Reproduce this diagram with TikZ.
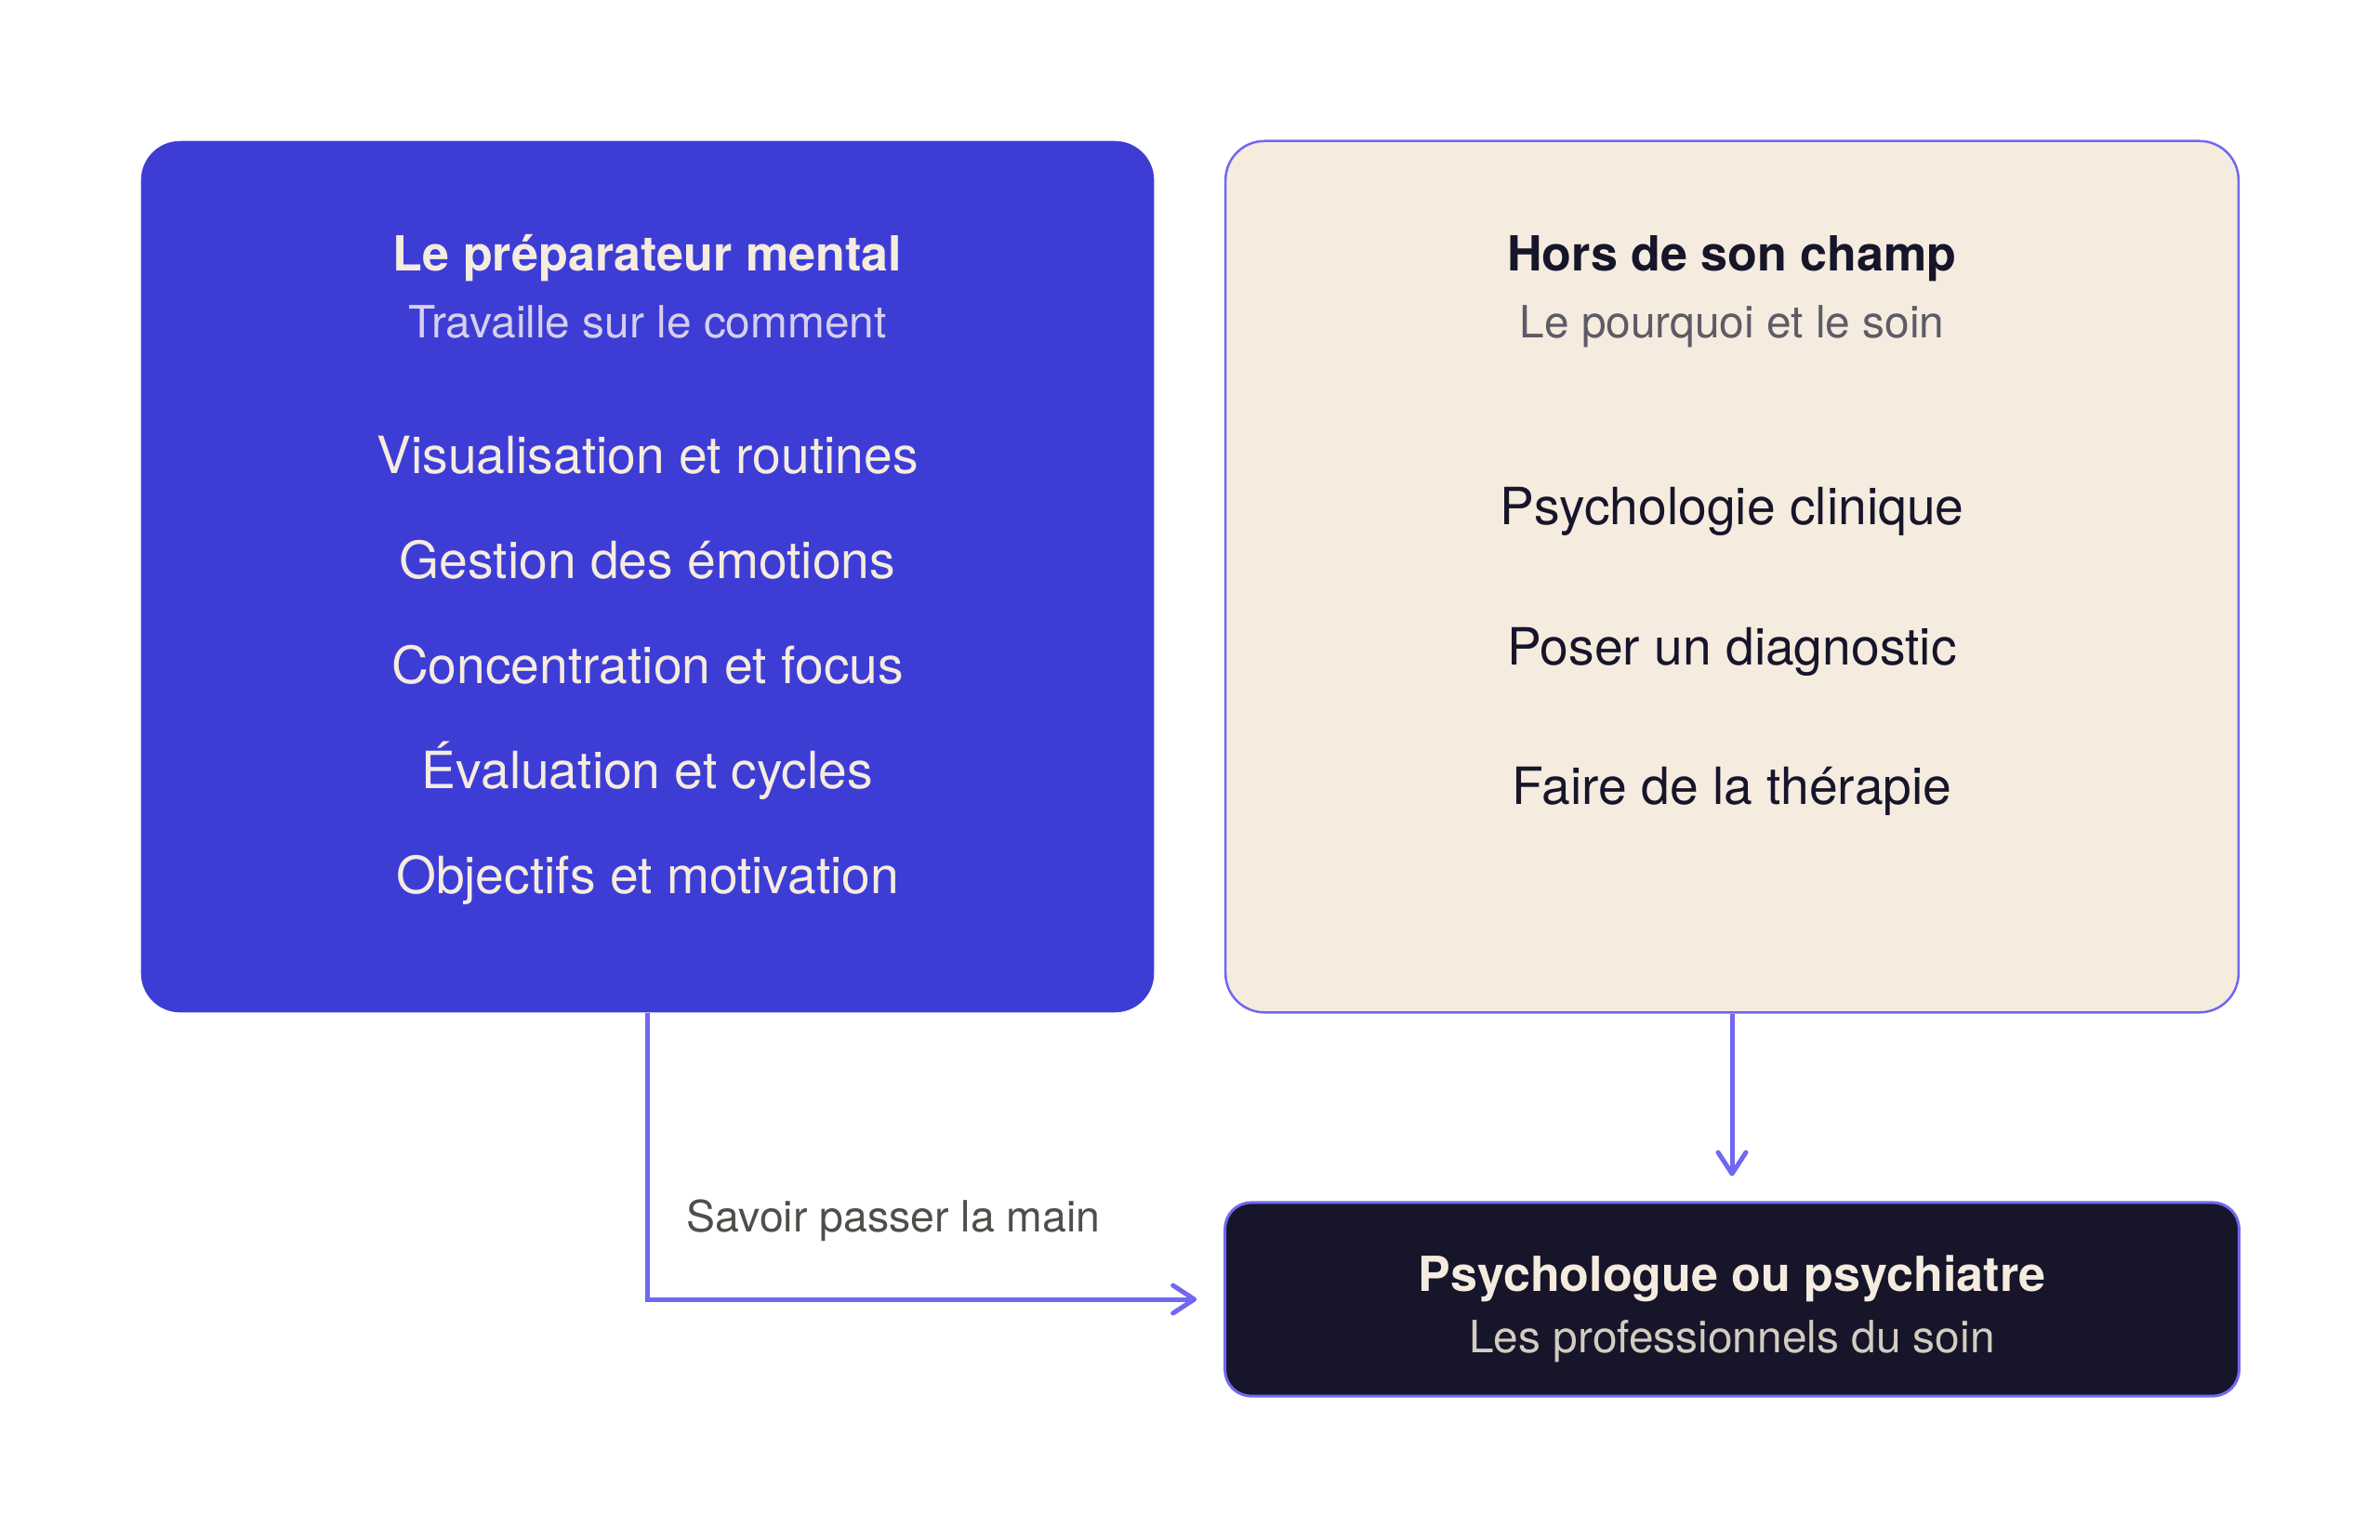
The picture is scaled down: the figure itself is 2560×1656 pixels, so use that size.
\documentclass[tikz,border=0pt]{standalone}
\usepackage{fontspec}
\setmainfont{TeX Gyre Heros}
\usetikzlibrary{arrows.meta}
\definecolor{bluebox}{HTML}{3D3DD6}
\definecolor{lineviolet}{HTML}{7068F0}
\definecolor{cream}{HTML}{F5ECDF}
\definecolor{darkbox}{HTML}{16152A}
\definecolor{lavender}{HTML}{D6D0EC}
\definecolor{greysub}{HTML}{5E5A66}
\definecolor{beigesub}{HTML}{D4CCC0}
\definecolor{labelgrey}{HTML}{4F4E4A}
\tikzset{
  panel/.style={rounded corners=0.42cm, inner sep=0pt, minimum width=10.89cm, minimum height=9.37cm},
  ttl/.style={anchor=base, inner sep=0pt, font=\fontsize{14.8pt}{18pt}\selectfont\bfseries},
  sub/.style={anchor=base, inner sep=0pt, font=\fontsize{13.6pt}{16pt}\selectfont},
  item/.style={anchor=base, inner sep=0pt, font=\fontsize{15.7pt}{18pt}\selectfont},
  conn/.style={draw=lineviolet, line width=0.05cm, -{Straight Barb[length=0.23cm, width=0.30cm, round, line width=0.05cm]}}
}
\begin{document}
\begin{tikzpicture}[x=0.01cm, y=-0.01cm]
\useasboundingbox[fill=white] (0,0) rectangle (2560,1656);
% panels
\node[panel, fill=bluebox] (left) at (696.5,620.5) {};
\node[panel, fill=cream, draw=lineviolet, line width=0.025cm] (right) at (1863,620.5) {};
\node[rounded corners=0.28cm, inner sep=0pt, minimum width=10.90cm, minimum height=2.08cm, fill=darkbox, draw=lineviolet, line width=0.03cm] (bot) at (1863,1398) {};
% left texts
\node[ttl, text=cream] (lt) at (696.5,291) {Le préparateur mental};
\node[sub, text=lavender] (ls) at (696.5,363) {Travaille sur le comment};
\node[item, text=cream] (l1) at (696.5,509) {Visualisation et routines};
\node[item, text=cream] (l2) at (696.5,622) {Gestion des émotions};
\node[item, text=cream] (l3) at (696.5,735) {Concentration et focus};
\node[item, text=cream] (l4) at (696.5,848) {Évaluation et cycles};
\node[item, text=cream] (l5) at (696.5,961) {Objectifs et motivation};
% right texts
\node[ttl, text=darkbox] (rt) at (1863,291) {Hors de son champ};
\node[sub, text=greysub] (rs) at (1863,363) {Le pourquoi et le soin};
\node[item, text=darkbox] (r1) at (1863,564) {Psychologie clinique};
\node[item, text=darkbox] (r2) at (1863,715) {Poser un diagnostic};
\node[item, text=darkbox] (r3) at (1863,865) {Faire de la thérapie};
% bottom texts
\node[ttl, text=cream] (bt) at (1863,1389) {Psychologue ou psychiatre};
\node[sub, text=beigesub] (bs) at (1863,1455) {Les professionnels du soin};
% connectors
\coordinate (elbowend) at ([xshift=-0.29cm]bot.west);
\draw[conn] (left.south) |- (elbowend);
\coordinate (downend) at ([yshift=0.27cm]bot.north);
\draw[conn] (right.south) -- (downend);
\node[anchor=base, inner sep=0pt, text=labelgrey, font=\fontsize{13.2pt}{16pt}\selectfont] (lab) at (961,1325) {Savoir passer la main};
\end{tikzpicture}
\end{document}
